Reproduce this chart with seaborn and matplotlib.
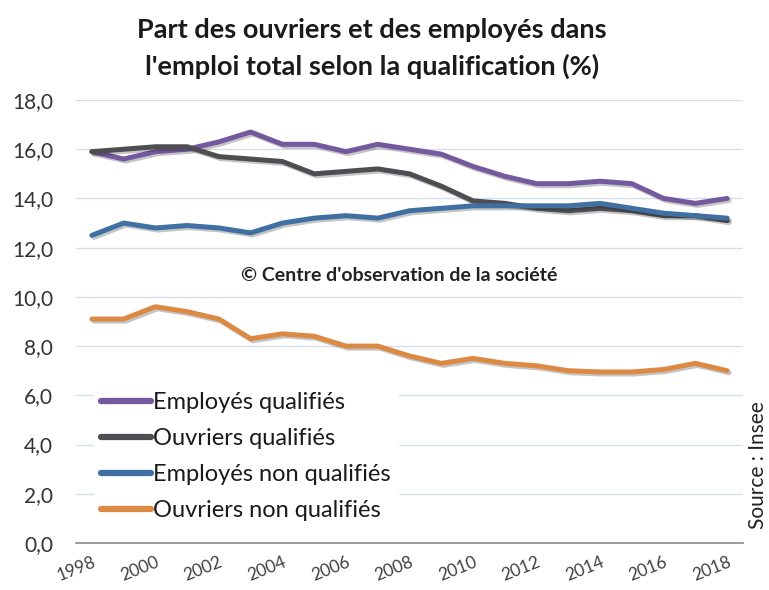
import numpy as np
import pandas as pd
import seaborn as sns
import matplotlib.pyplot as plt
import matplotlib.patheffects as pe
from matplotlib.ticker import FuncFormatter, MultipleLocator

years = list(range(1998, 2019))
employes_qualifies = [15.9, 15.6, 15.9, 16.0, 16.3, 16.7, 16.2, 16.2, 15.9, 16.2,
                      16.0, 15.8, 15.3, 14.9, 14.6, 14.6, 14.7, 14.6, 14.0, 13.8, 14.0]
ouvriers_qualifies = [15.9, 16.0, 16.1, 16.1, 15.7, 15.6, 15.5, 15.0, 15.1, 15.2,
                      15.0, 14.5, 13.9, 13.8, 13.6, 13.5, 13.6, 13.5, 13.3, 13.3, 13.1]
employes_non_qualifies = [12.5, 13.0, 12.8, 12.9, 12.8, 12.6, 13.0, 13.2, 13.3, 13.2,
                          13.5, 13.6, 13.7, 13.7, 13.7, 13.7, 13.8, 13.6, 13.4, 13.3, 13.2]
ouvriers_non_qualifies = [9.1, 9.1, 9.6, 9.4, 9.1, 8.3, 8.5, 8.4, 8.0, 8.0,
                          7.6, 7.3, 7.5, 7.3, 7.2, 7.0, 6.95, 6.95, 7.05, 7.3, 7.0]

series = {
    "Employés qualifiés": employes_qualifies,
    "Ouvriers qualifiés": ouvriers_qualifies,
    "Employés non qualifiés": employes_non_qualifies,
    "Ouvriers non qualifiés": ouvriers_non_qualifies,
}
colors = ["#75599f", "#4e4e52", "#3f6fa3", "#dc8944"]

df = pd.DataFrame([(name, y, v) for name, vals in series.items()
                   for y, v in zip(years, vals)],
                  columns=["serie", "annee", "valeur"])

sns.set_theme(style="white")
plt.rcParams["font.family"] = ["Lato", "DejaVu Sans"]

fig = plt.figure(figsize=(7.69, 5.90), dpi=100)
ax = fig.add_axes([76 / 769, 1 - 543 / 590, (743 - 76) / 769, (543 - 100) / 590])

sns.lineplot(data=df, x="annee", y="valeur", hue="serie",
             palette=dict(zip(series.keys(), colors)), linewidth=3.6,
             ax=ax, legend=False, zorder=3)
for line in ax.lines:
    line.set_path_effects([pe.SimpleLineShadow(offset=(1.5, -1.5), alpha=0.25),
                           pe.Normal()])
    line.set_solid_capstyle("round")

ax.set_xlim(1997.5, 2018.5)
ax.set_ylim(0, 18)
ax.yaxis.set_major_locator(MultipleLocator(2))
ax.yaxis.set_major_formatter(FuncFormatter(lambda v, p: f"{v:.1f}".replace(".", ",")))
ax.set_xticks(years[::2])
ax.set_xticks(np.arange(1997.5, 2019, 2), minor=True)
ax.tick_params(axis="x", which="major", length=0, pad=8, labelsize=12.5, labelcolor="#404040")
ax.tick_params(axis="x", which="minor", length=5, width=1, color="#8a8a8a", direction="out")
ax.tick_params(axis="y", length=0, labelsize=15, labelcolor="#333333", pad=16.5)
for lab in ax.get_xticklabels():
    lab.set_rotation(22)
    lab.set_ha("right")
    lab.set_rotation_mode("anchor")
ax.set_xlabel("")
ax.set_ylabel("")
ax.grid(axis="y", color="#d6e0e8", linewidth=1)
for s in ["top", "right", "left"]:
    ax.spines[s].set_visible(False)
ax.spines["bottom"].set_color("#8a8a8a")
ax.spines["bottom"].set_linewidth(1.2)

handles = ax.lines[:4]
leg = ax.legend(handles, list(series.keys()), loc="upper left",
                bbox_to_anchor=(94 / 769, 1 - 385 / 590), bbox_transform=fig.transFigure,
                frameon=True, fancybox=False, framealpha=1, edgecolor="white",
                fontsize=17, handlelength=2.1, handletextpad=0.1,
                labelspacing=0.64, borderpad=0.3, borderaxespad=0)
for h in leg.get_lines():
    h.set_linewidth(4.5)
    h.set_path_effects([])
for t in leg.get_texts():
    t.set_color("#1a1a1a")

ax.text(0.485, 0.603, "© Centre d'observation de la société", transform=ax.transAxes,
        ha="center", va="center", fontsize=14, fontweight="bold", color="#222222",
        bbox=dict(facecolor="white", edgecolor="none", pad=2), zorder=4)

fig.text(372 / 769, 1 - 18 / 590,
         "Part des ouvriers et des employés dans\nl'emploi total selon la qualification (%)",
         ha="center", va="top", fontsize=19.5, fontweight="bold", color="#1a1a1a",
         linespacing=1.55)
fig.text(758 / 769, 1 - 465 / 590, "Source : Insee", rotation=90,
         ha="center", va="center", fontsize=15, color="#222222")

fig.savefig("out.png", dpi=100)
